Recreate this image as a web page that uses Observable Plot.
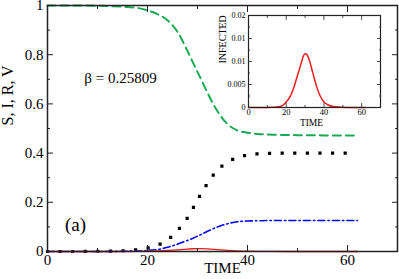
<!DOCTYPE html>
<html><head><meta charset="utf-8">
<script src="https://cdn.jsdelivr.net/npm/d3@7"></script>
<script src="https://cdn.jsdelivr.net/npm/@observablehq/plot@0.6"></script>
<style>
html,body{margin:0;padding:0;background:#fff;}
#wrap{position:relative;width:399px;height:279px;font-family:"Liberation Serif","Times New Roman",serif;}
#wrap svg{position:absolute;background:transparent;overflow:visible;}
#wrap svg text{font-family:"Liberation Serif","Times New Roman",serif;}
</style></head>
<body><div id="wrap"></div>
<script>
const time        = [0, 5, 10, 15, 18, 20, 22, 24, 26, 28, 29, 30, 31, 32, 34, 36, 38, 40, 42, 45, 50, 55, 62];
const susceptible = [1.0, 1.0, 0.999, 0.995, 0.99, 0.98, 0.965, 0.94, 0.893, 0.815, 0.772, 0.73, 0.688, 0.645, 0.57, 0.518, 0.492, 0.483, 0.478, 0.475, 0.473, 0.472, 0.471];
const recovered   = [0, 0, 0.001, 0.003, 0.008, 0.014, 0.026, 0.047, 0.085, 0.137, 0.172, 0.21, 0.245, 0.277, 0.331, 0.363, 0.383, 0.392, 0.397, 0.399, 0.4, 0.4, 0.4];
const vaccinated  = [0, 0, 0, 0.001, 0.002, 0.004, 0.008, 0.017, 0.03, 0.045, 0.053, 0.062, 0.072, 0.082, 0.1, 0.113, 0.121, 0.124, 0.125, 0.126, 0.126, 0.126, 0.126];
const infected    = [0, 0, 0, 0.0001, 0.0004, 0.0012, 0.0023, 0.0043, 0.007, 0.0097, 0.0111, 0.0117, 0.0115, 0.0106, 0.0077, 0.0047, 0.0025, 0.0012, 0.0006, 0.0002, 0.00005, 0, 0];

const xMajor = [0, 20, 40, 60];
const xMinor = [10, 30, 50, 70];
const yMajor = [0, 0.2, 0.4, 0.6, 0.8, 1];
const yMinor = [0.1, 0.3, 0.5, 0.7, 0.9];
const yTickLabels = ["0", "0.2", "0.4", "0.6", "0.8", "1"];
const insetYMajor = [0, 0.005, 0.01, 0.015, 0.02];
const insetYMinor = [0.0025, 0.0075, 0.0125, 0.0175];
const insetYTickLabels = ["0", "0.005", "0.01", "0.01", "0.02"];
const betaLabel = "β = 0.25809";
const panelLabel = "(a)";

const FONT = '"Liberation Serif", "Times New Roman", serif';
const idx = time.map((_, i) => i);
const ink = "#222";

function tickMarks(major, minor, axis, anchors, big, small, sw) {
  const A = axis === "x" ? Plot.axisX : Plot.axisY;
  const out = [];
  for (const anchor of anchors) {
    out.push(A({anchor, ticks: major, tickSize: -big, tickFormat: () => "", stroke: ink, strokeWidth: sw}));
    out.push(A({anchor, ticks: minor, tickSize: -small, tickFormat: () => "", stroke: ink, strokeWidth: sw}));
  }
  return out;
}

const main = Plot.plot({
  width: 399, height: 279,
  marginLeft: 47, marginRight: 2, marginTop: 5, marginBottom: 28,
  style: {fontFamily: FONT, background: "transparent", color: "#000", overflow: "visible"},
  x: {domain: [0, 70], label: null},
  y: {domain: [0, 1], label: null},
  marks: [
    Plot.line(idx, {x: time, y: susceptible, stroke: "#1aaa55", strokeWidth: 2, strokeDasharray: "8,5", curve: "monotone-x"}),
    Plot.line(idx, {x: time, y: recovered, stroke: "#000", strokeWidth: 3.2, strokeDasharray: "0,12.6", strokeLinecap: "square", curve: "monotone-x"}),
    Plot.line(idx, {x: time, y: vaccinated, stroke: "#0000ff", strokeWidth: 1.6, strokeDasharray: "7,3,1.5,3", curve: "monotone-x"}),
    Plot.line(idx, {x: time, y: infected, stroke: "#ee1c1c", strokeWidth: 1.3, curve: "monotone-x"}),
    Plot.frame({stroke: ink, strokeWidth: 1.5}),
    ...tickMarks(xMajor, xMinor, "x", ["bottom", "top"], 6, 3, 1),
    ...tickMarks(yMajor, yMinor, "y", ["left", "right"], 6, 3, 1),
    Plot.axisX({anchor: "bottom", ticks: xMajor, tickSize: 0, tickPadding: 3, fontSize: 15, fontFamily: FONT, label: null}),
    Plot.axisY({anchor: "left", ticks: yMajor, tickSize: 0, tickPadding: 4, fontSize: 15, fontFamily: FONT, label: null,
      tickFormat: d => yTickLabels[yMajor.indexOf(d)]}),
    Plot.text(["TIME"], {frameAnchor: "bottom", dy: 21, fontSize: 15, fontFamily: FONT, fill: "#000"}),
    Plot.text(["S, I, R, V"], {frameAnchor: "left", dx: -40, dy: -3, rotate: -90, fontSize: 16, fontFamily: FONT, fill: "#000", style: {letterSpacing: "1px"}}),
    Plot.text([betaLabel], {frameAnchor: "top-left", dx: 73, dy: 67, textAnchor: "middle", fontSize: 15, fontFamily: FONT, fill: "#000"}),
    Plot.text([panelLabel], {frameAnchor: "bottom-left", dx: 28, dy: -21, textAnchor: "middle", fontSize: 19, fontFamily: FONT, fill: "#000"})
  ]
});
main.style.left = "0px"; main.style.top = "0px";

const inset = Plot.plot({
  width: 177, height: 125,
  marginLeft: 43, marginRight: 2, marginTop: 10, marginBottom: 23,
  style: {fontFamily: FONT, background: "transparent", color: "#000"},
  x: {domain: [0, 70], label: null},
  y: {domain: [0, 0.02], label: null},
  marks: [
    Plot.line(idx, {x: time, y: infected, stroke: "#ee1c1c", strokeWidth: 1.5, curve: "monotone-x"}),
    Plot.frame({stroke: ink, strokeWidth: 1.2}),
    ...tickMarks(xMajor, [10, 30, 50], "x", ["bottom", "top"], 4, 2, 0.8),
    ...tickMarks(insetYMajor, insetYMinor, "y", ["left", "right"], 4, 2, 0.8),
    Plot.axisX({anchor: "bottom", ticks: xMajor, tickSize: 0, tickPadding: 1, fontSize: 8.5, fontFamily: FONT, label: null}),
    Plot.axisY({anchor: "left", ticks: insetYMajor, tickSize: 0, tickPadding: 3, fontSize: 8, fontFamily: FONT, label: null,
      tickFormat: d => insetYTickLabels[insetYMajor.indexOf(d)]}),
    Plot.text(["TIME"], {frameAnchor: "bottom", dy: 18, dx: -3, fontSize: 9.5, fontFamily: FONT, fill: "#000"}),
    Plot.text(["INFECTED"], {frameAnchor: "left", dx: -26, dy: 2, rotate: -90, fontSize: 10, fontFamily: FONT, fill: "#000"})
  ]
});
inset.style.left = "205px"; inset.style.top = "5px";

const wrap = document.getElementById("wrap");
wrap.append(main, inset);
</script>
</body></html>
